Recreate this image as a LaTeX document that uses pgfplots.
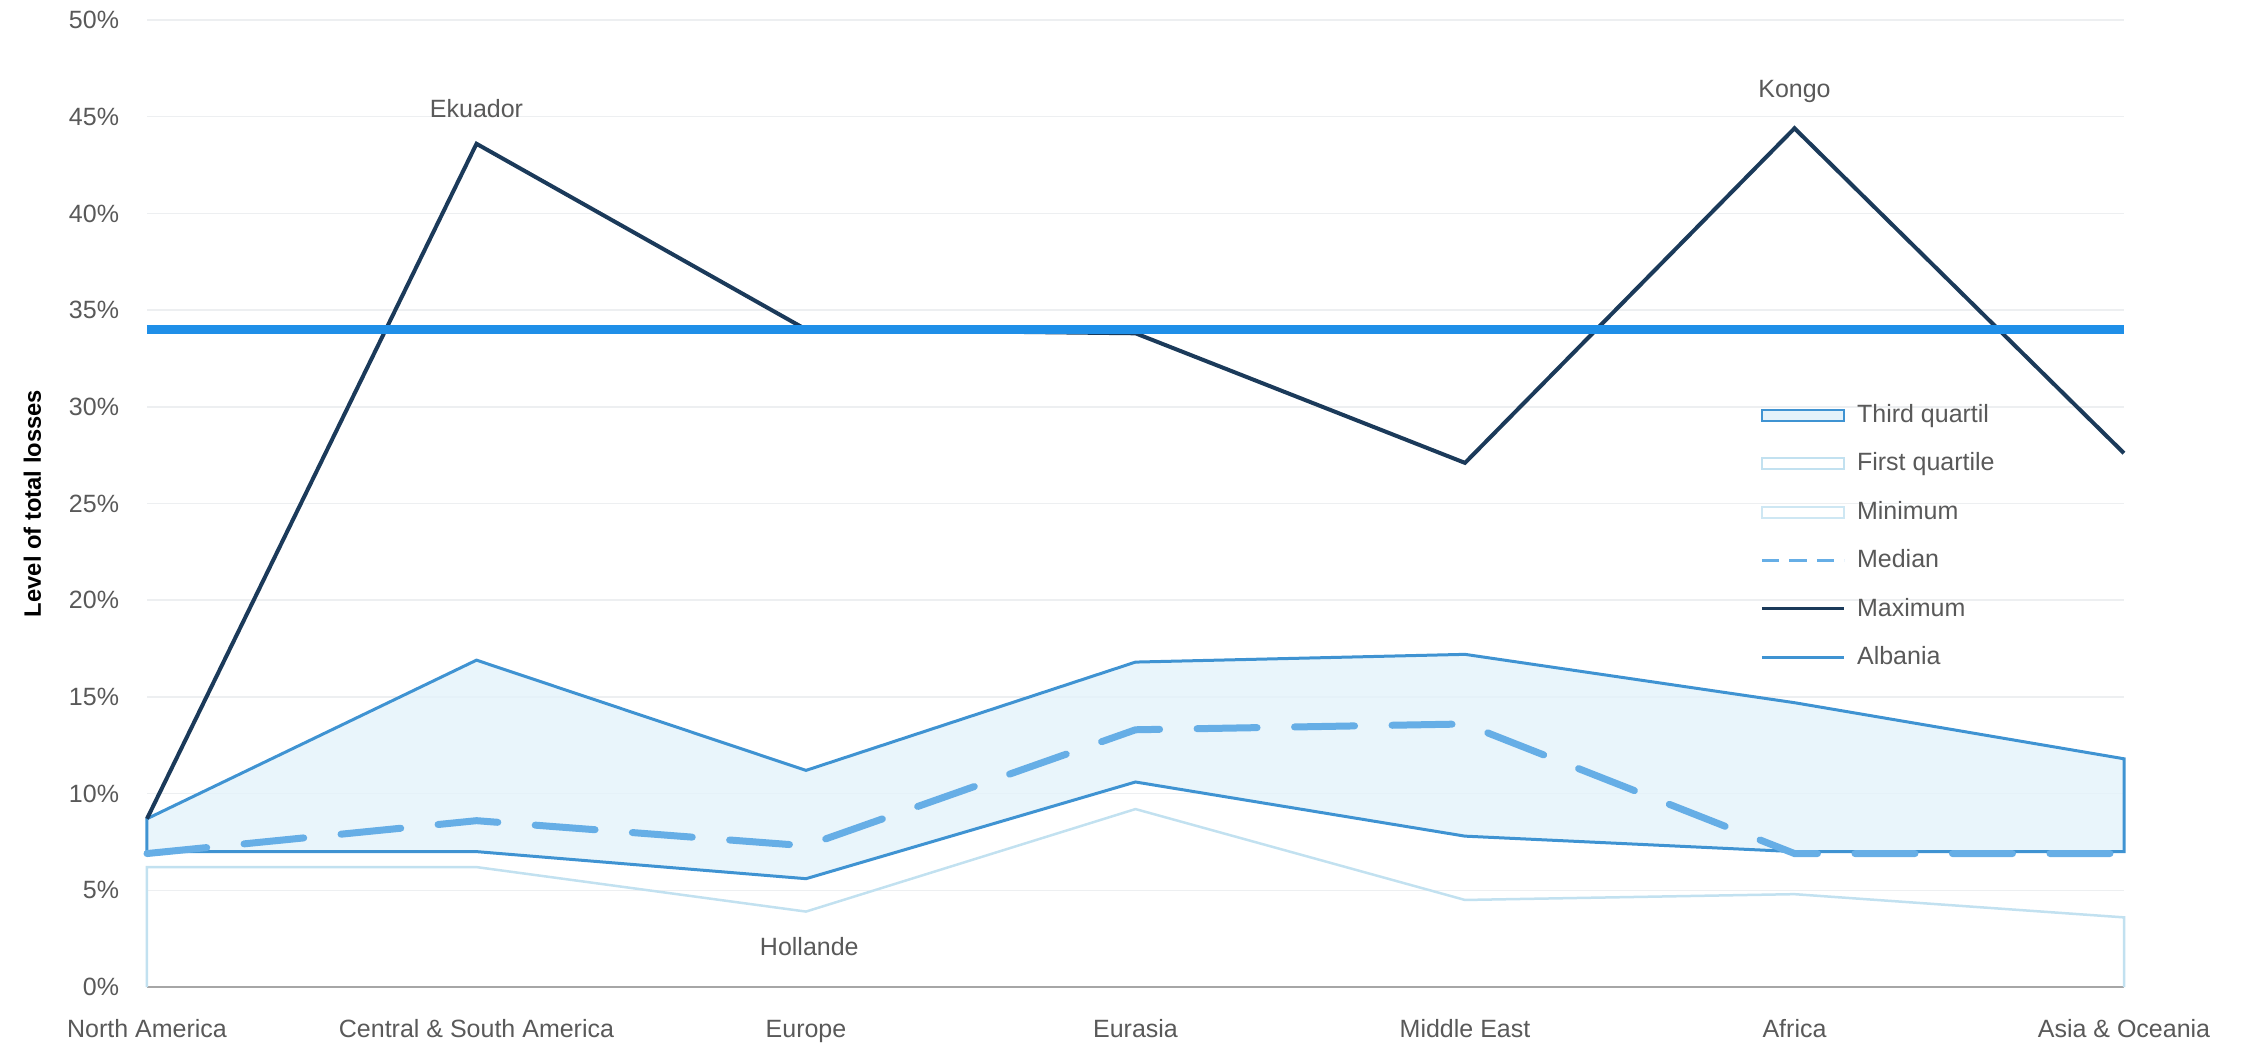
\documentclass[border=0pt]{standalone}
\usepackage{pgfplots}
\pgfplotsset{compat=1.18}
\usepackage{fontspec}
\setmainfont{Liberation Sans}

\definecolor{maxc}{HTML}{1B3A5A}
\definecolor{albc}{HTML}{1F8FE8}
\definecolor{q3c}{HTML}{3F93D2}
\definecolor{q3f}{HTML}{E4F2FA}
\definecolor{minc}{HTML}{C2E1F0}
\definecolor{medc}{HTML}{66AEE6}
\definecolor{gridc}{HTML}{EDEFF1}
\definecolor{txt}{HTML}{595959}

\begin{document}
\begin{tikzpicture}
\path[use as bounding box] (-58.8pt,-22.4pt) rectangle (837.6pt,394.8pt);
\begin{axis}[
  scale only axis, width=790.8pt, height=386.8pt,
  xmin=0, xmax=6, ymin=0, ymax=50,
  axis lines*=left,
  x axis line style={draw=gray!70, line width=0.8pt},
  y axis line style={draw=none},
  xtick={0,...,6},
  xticklabels={North America, Central \& South America, Europe, Eurasia, Middle East, Africa, Asia \& Oceania},
  ytick={0,5,...,50},
  yticklabels={0\%,5\%,10\%,15\%,20\%,25\%,30\%,35\%,40\%,45\%,50\%},
  major tick length=0pt,
  ymajorgrids, grid style={gridc, line width=0.6pt},
  tick label style={font=\fontsize{10}{12}\selectfont, text=txt},
  xticklabel style={anchor=base, yshift=-20pt},
  yticklabel style={anchor=east, inner sep=0pt, xshift=-11pt},
  ylabel={\textbf{Level of total losses}},
  ylabel style={at={(axis description cs:-0.058,0.5)}, anchor=center, font=\fontsize{9.5}{11}\selectfont, text=black},
  clip=false,
  legend style={draw=none, fill=none, at={(0.812,0.612)}, anchor=north west,
    font=\fontsize{10}{12}\selectfont, text=txt, row sep=7.6pt,
    nodes={inner sep=1.5pt}},
  legend cell align=left,
  /tikz/every odd column/.append style={column sep=3pt},
]
% Minimum area
\addplot[draw=minc, line width=1pt, forget plot] coordinates {
(0,0) (0,6.2) (1,6.2) (2,3.9) (3,9.2) (4,4.5) (5,4.8) (6,3.6) (6,0)};
% Third quartile area (Q1 to Q3)
\addplot[draw=q3c, line width=1.2pt, fill=q3f, fill opacity=0.8, forget plot] coordinates {
(0,7.0) (0,8.7) (1,16.9) (2,11.2) (3,16.8) (4,17.2) (5,14.7) (6,11.8)
(6,7.0) (5,7.0) (4,7.8) (3,10.6) (2,5.6) (1,7.0) (0,7.0)};
% Median
\addplot[medc, line width=2.8pt, line cap=round, dash pattern=on 24pt off 15pt, forget plot] coordinates {
(0,6.9) (1,8.6) (2,7.3) (3,13.3) (4,13.6) (5,6.9) (6,6.9)};
% Maximum
\addplot[maxc, line width=1.6pt, forget plot] coordinates {
(0,8.7) (1,43.6) (2,34.0) (3,33.8) (4,27.1) (5,44.4) (6,27.6)};
% Albania
\addplot[albc, line width=3.6pt, forget plot] coordinates {
(0,34.0) (6,34.0)};

\addlegendimage{legend image code/.code={\draw[draw=q3c, fill=q3f, line width=0.8pt] (0pt,-2.2pt) rectangle (33pt,2.2pt);}}
\addlegendentry{Third quartil}
\addlegendimage{legend image code/.code={\draw[draw=minc, line width=0.8pt] (0pt,-2.2pt) rectangle (33pt,2.2pt);}}
\addlegendentry{First quartile}
\addlegendimage{legend image code/.code={\draw[draw=minc!80, line width=0.8pt] (0pt,-2.2pt) rectangle (33pt,2.2pt);}}
\addlegendentry{Minimum}
\addlegendimage{legend image code/.code={\draw[medc, line width=1pt, dash pattern=on 7pt off 4pt] (0pt,0pt) -- (33pt,0pt);}}
\addlegendentry{Median}
\addlegendimage{legend image code/.code={\draw[maxc, line width=1.2pt] (0pt,0pt) -- (33pt,0pt);}}
\addlegendentry{Maximum}
\addlegendimage{legend image code/.code={\draw[q3c, line width=1.2pt] (0pt,0pt) -- (33pt,0pt);}}
\addlegendentry{Albania}

\node[text=txt, font=\fontsize{10}{12}\selectfont] at (axis cs:1,45.4) {Ekuador};
\node[text=txt, font=\fontsize{10}{12}\selectfont] at (axis cs:5,46.3) {Kongo};
\node[text=txt, font=\fontsize{10}{12}\selectfont] at (axis cs:2.01,2.07) {Hollande};
\end{axis}
\end{tikzpicture}
\end{document}
